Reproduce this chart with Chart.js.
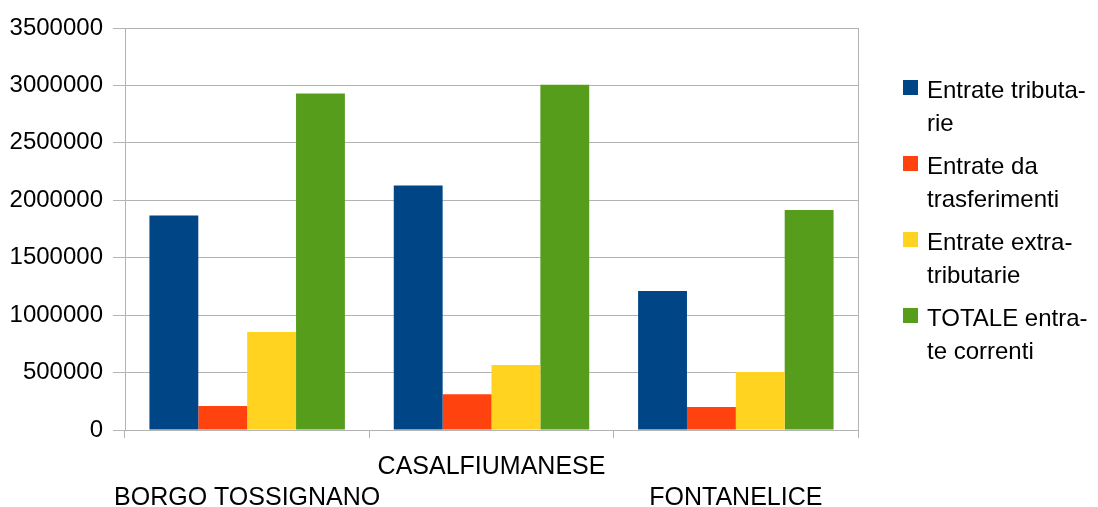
<!DOCTYPE html>
<html>
<head>
<meta charset="utf-8">
<script src="https://cdn.jsdelivr.net/npm/chart.js@4/dist/chart.umd.min.js"></script>
<style>
html,body{margin:0;padding:0;background:#fff;}
#wrap{width:1098px;height:507px;position:relative;}
#legend{position:absolute;left:903px;top:0;font-family:'Liberation Sans',Arial,sans-serif;font-size:24px;line-height:33px;color:#000;}
.item{position:absolute;left:0;white-space:nowrap;}
.box{position:absolute;left:0;top:7px;width:15px;height:15px;}
.txt{position:absolute;left:24px;top:0;}
</style>
</head>
<body>
<div id="wrap"><canvas id="c"></canvas><div id="legend"></div></div>
<script>
const categories = ['BORGO TOSSIGNANO', 'CASALFIUMANESE', 'FONTANELICE'];
const seriesNames = ['Entrate tributarie', 'Entrate da trasferimenti', 'Entrate extra-tributarie', 'TOTALE entrate correnti'];
const legendLines = [['Entrate tributa-', 'rie'], ['Entrate da', 'trasferimenti'], ['Entrate extra-', 'tributarie'], ['TOTALE entra-', 'te correnti']];
const entrateTributarie = [1868000, 2128000, 1210000];
const entrateTrasferimenti = [209000, 312000, 200000];
const entrateExtra = [853000, 565000, 505000];
const totaleCorrenti = [2930000, 3005000, 1915000];
const yTicks = [0, 500000, 1000000, 1500000, 2000000, 2500000, 3000000, 3500000];
const colors = ['#004586', '#ff420e', '#ffd320', '#579d1c'];

const FONT = "'Liberation Sans', Arial, sans-serif";
const values = [entrateTributarie, entrateTrasferimenti, entrateExtra, totaleCorrenti];

const chart = new Chart(document.getElementById('c'), {
  type: 'bar',
  data: {
    labels: categories,
    datasets: values.map((v, i) => ({
      label: seriesNames[i],
      data: v,
      backgroundColor: colors[i],
      borderWidth: 0,
      barPercentage: 1,
      categoryPercentage: 0.8
    }))
  },
  options: {
    responsive: true,
    maintainAspectRatio: false,
    animation: false,
    layout: { padding: { top: 28, left: 4, right: 240, bottom: 0 } },
    plugins: {
      tooltip: { enabled: false },
      legend: { display: false }
    },
    scales: {
      x: {
        afterFit: (axis) => { axis.height = 77; },
        grid: { display: true, drawOnChartArea: false, drawTicks: true, tickLength: 8, color: '#b3b3b3', offset: true },
        border: { display: true, color: '#b3b3b3', width: 1 },
        ticks: {
          color: '#000',
          font: { family: FONT, size: 25, lineHeight: 1.24 },
          maxRotation: 0,
          autoSkip: false,
          padding: 14,
          callback: function (v, i) {
            const l = this.getLabelForValue(v);
            return i % 2 === 1 ? [l, ''] : ['', l];
          }
        }
      },
      y: {
        min: 0,
        max: 3500000,
        afterBuildTicks: (axis) => { axis.ticks = yTicks.map(v => ({ value: v })); },
        afterFit: (axis) => { axis.width = 121; },
        grid: { color: '#b3b3b3', drawTicks: true, tickLength: 12 },
        border: { display: true, color: '#b3b3b3', width: 1 },
        ticks: {
          color: '#000',
          font: { family: FONT, size: 24 },
          padding: 10,
          callback: (v) => String(v)
        }
      },
      y2: {
        position: 'right',
        min: 0,
        max: 3500000,
        afterFit: (axis) => { axis.width = 0; },
        grid: { drawOnChartArea: false, drawTicks: false },
        border: { display: true, color: '#b3b3b3', width: 1 },
        ticks: { display: false }
      }
    }
  }
});

// legend built from the chart's datasets
const legend = document.getElementById('legend');
chart.data.datasets.forEach((ds, i) => {
  const item = document.createElement('div');
  item.className = 'item';
  item.style.top = (73 + i * 76) + 'px';
  const box = document.createElement('div');
  box.className = 'box';
  box.style.background = ds.backgroundColor;
  const txt = document.createElement('div');
  txt.className = 'txt';
  txt.innerHTML = legendLines[i].map(s => s.replace(/&/g, '&amp;').replace(/</g, '&lt;')).join('<br>');
  item.appendChild(box);
  item.appendChild(txt);
  legend.appendChild(item);
});
</script>
</body>
</html>
